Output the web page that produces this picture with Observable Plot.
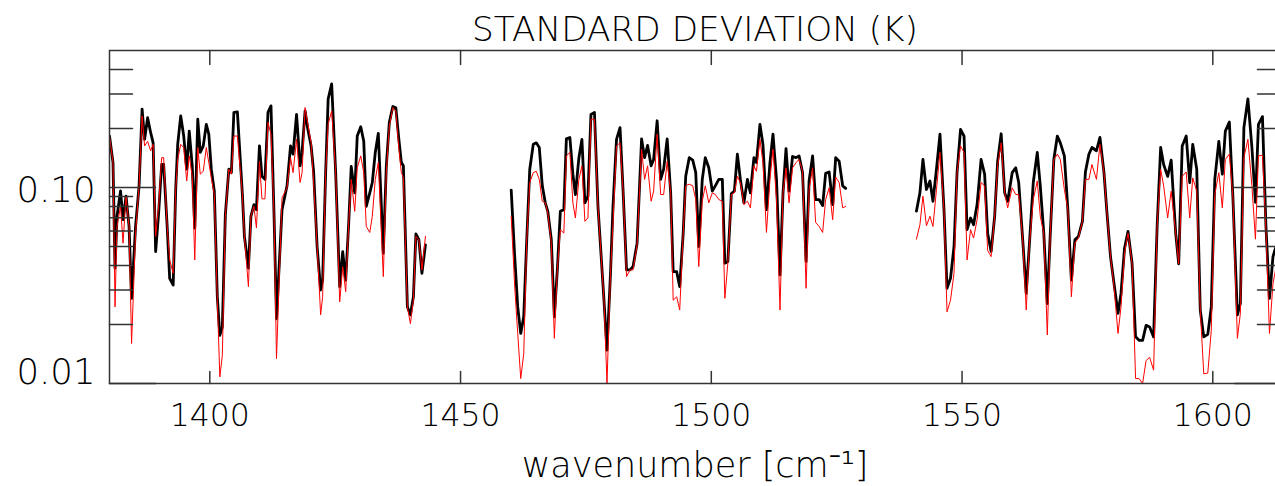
<!DOCTYPE html>
<html><head><meta charset="utf-8">
<script src="https://cdn.jsdelivr.net/npm/d3@7"></script>
<script src="https://cdn.jsdelivr.net/npm/@observablehq/plot@0.6"></script>
<style>
html,body{margin:0;padding:0;overflow:hidden;background:#fff;width:1275px;height:486px}
#chart svg{display:block;max-width:none !important;width:1290px;height:486px}
</style>
</head><body><div id="chart"></div>
<script>
// ---- DATA (standard deviation in K vs wavenumber in cm-1) ----
const wn1 = [1380.0,1380.7,1381.1,1381.5,1382.2,1382.7,1383.3,1383.9,1384.4,1385.2,
1385.9,1386.5,1387.0,1387.6,1388.2,1388.7,1389.2,1389.8,1390.4,1390.8,
1391.5,1392.0,1392.7,1393.2,1393.6,1394.2,1394.8,1395.4,1395.9,1396.5,
1397.0,1397.6,1398.1,1398.7,1399.3,1399.8,1400.3,1400.9,1401.5,1402.0,
1402.5,1403.1,1403.8,1404.3,1404.8,1405.5,1406.5,1406.9,1407.7,1408.2,
1408.8,1409.3,1409.9,1410.4,1411.0,1411.6,1412.2,1412.8,1413.3,1414.4,
1415.4,1416.1,1416.6,1417.3,1418.0,1418.4,1419.0,1419.5,1420.2,1420.7,
1421.4,1422.1,1422.5,1423.1,1423.6,1424.3,1425.1,1425.9,1426.5,1427.1,
1427.7,1428.2,1428.9,1429.4,1430.1,1430.7,1431.2,1431.9,1432.4,1433.0,
1433.6,1434.6,1435.2,1435.8,1436.5,1437.1,1437.7,1438.2,1438.6,1439.4,
1440.0,1440.6,1441.1,1441.7,1442.3,1443.0];
const black1 = [0.183,0.134,0.0388,0.0713,0.0960,0.0685,0.0903,0.0633,0.0272,0.0633,
0.102,0.251,0.176,0.227,0.191,0.169,0.0471,0.0741,0.131,0.131,
0.0633,0.0344,0.0318,0.0977,0.166,0.232,0.183,0.124,0.194,0.129,
0.0621,0.223,0.151,0.163,0.210,0.187,0.124,0.0958,0.0277,0.0176,
0.0194,0.0727,0.124,0.119,0.2415,0.243,0.0921,0.0563,0.0388,0.0713,
0.0818,0.0771,0.163,0.114,0.110,0.2415,0.261,0.0741,0.0214,0.0771,
0.102,0.163,0.148,0.236,0.129,0.151,0.246,0.202,0.163,0.121,
0.0500,0.0300,0.0337,0.119,0.283,0.338,0.119,0.0312,0.0471,0.0337,
0.0659,0.128,0.0939,0.183,0.204,0.172,0.0802,0.0939,0.106,0.151,
0.189,0.0462,0.129,0.215,0.259,0.255,0.176,0.134,0.129,0.0246,
0.0224,0.0277,0.0580,0.0541,0.0365,0.0510];
const red1 = [0.183,0.134,0.0246,0.0633,0.0802,0.0520,0.0903,0.0633,0.0160,0.0585,
0.102,0.232,0.163,0.172,0.154,0.166,0.0563,0.0802,0.142,0.142,
0.0633,0.0427,0.0365,0.0977,0.139,0.166,0.160,0.108,0.145,0.114,
0.0427,0.160,0.117,0.121,0.160,0.134,0.112,0.0921,0.0266,0.0108,
0.0139,0.0713,0.124,0.117,0.183,0.183,0.0921,0.0563,0.0312,0.0713,
0.0802,0.0621,0.136,0.0875,0.0875,0.215,0.187,0.0741,0.0134,0.0885,
0.0997,0.142,0.119,0.176,0.106,0.119,0.256,0.215,0.169,0.106,
0.0500,0.0224,0.0277,0.119,0.210,0.246,0.119,0.0261,0.0395,0.0294,
0.0659,0.110,0.0756,0.126,0.145,0.119,0.0633,0.0590,0.0713,0.110,
0.134,0.0351,0.119,0.206,0.256,0.246,0.157,0.119,0.112,0.0246,
0.0202,0.0266,0.0563,0.0541,0.0380,0.0563];

const wn2 = [1460.1,1460.8,1461.4,1462.0,1462.6,1463.2,1463.8,1464.5,1465.1,1465.7,
1466.3,1466.9,1467.4,1468.1,1468.7,1469.3,1469.9,1470.6,1471.1,1471.8,
1472.4,1472.9,1473.6,1474.2,1474.8,1475.4,1476.0,1476.7,1477.4,1478.6,
1479.2,1479.9,1480.4,1481.1,1481.8,1482.4,1483.1,1483.8,1484.4,1485.2,
1486.1,1486.7,1487.3,1488.0,1488.5,1489.2,1489.9,1490.5,1491.2,1491.9,
1492.4,1493.1,1493.7,1494.4,1494.9,1495.6,1496.3,1496.9,1497.5,1498.2,
1498.8,1499.5,1500.2,1500.8,1501.5,1502.2,1502.7,1503.3,1504.0,1504.6,
1505.2,1505.8,1506.5,1507.2,1507.8,1508.5,1509.0,1509.7,1510.3,1511.0,
1511.7,1512.3,1513.0,1513.7,1514.3,1514.9,1515.5,1516.2,1516.9,1517.5,
1518.2,1518.9,1519.5,1520.2,1520.8,1521.5,1522.2,1522.8,1523.5,1524.2,
1524.8,1525.5,1526.2,1526.8];
const black2 = [0.0970,0.0444,0.0246,0.0180,0.0219,0.0541,0.124,0.166,0.169,0.160,
0.102,0.0835,0.0756,0.0541,0.0219,0.0380,0.0756,0.0771,0.177,0.180,
0.117,0.0921,0.142,0.176,0.0835,0.0903,0.236,0.2415,0.0802,0.0266,
0.0148,0.0365,0.0802,0.176,0.202,0.0977,0.0380,0.0380,0.0395,0.0520,
0.177,0.142,0.164,0.129,0.139,0.219,0.110,0.124,0.177,0.0939,
0.0372,0.0372,0.0312,0.0585,0.114,0.142,0.138,0.119,0.0500,0.110,
0.142,0.126,0.0958,0.102,0.110,0.110,0.0411,0.0419,0.0932,0.0958,
0.148,0.110,0.0835,0.110,0.0939,0.142,0.134,0.210,0.166,0.0771,
0.134,0.187,0.110,0.0358,0.0939,0.158,0.0958,0.144,0.142,0.145,
0.119,0.0419,0.108,0.145,0.0868,0.0868,0.0808,0.118,0.120,0.0818,
0.142,0.136,0.102,0.0990];
const red2 = [0.0713,0.0312,0.0180,0.0106,0.0142,0.0541,0.106,0.119,0.121,0.110,
0.0851,0.0835,0.0741,0.0520,0.0170,0.0380,0.0609,0.0585,0.145,0.151,
0.0835,0.0699,0.110,0.129,0.0672,0.0699,0.223,0.223,0.0802,0.0266,
0.0100,0.0365,0.0659,0.163,0.169,0.0977,0.0351,0.0380,0.0380,0.0510,
0.157,0.110,0.129,0.0851,0.0958,0.187,0.0921,0.0921,0.136,0.0939,
0.0266,0.0277,0.0237,0.0585,0.102,0.104,0.102,0.0868,0.0395,0.0851,
0.102,0.0835,0.0939,0.0921,0.0868,0.0851,0.0272,0.0411,0.0921,0.0939,
0.114,0.106,0.0818,0.0851,0.0787,0.129,0.121,0.176,0.134,0.0590,
0.110,0.157,0.0868,0.0237,0.0939,0.126,0.0835,0.126,0.134,0.139,
0.121,0.0306,0.0977,0.126,0.0664,0.0633,0.0590,0.0868,0.0997,0.0685,
0.113,0.106,0.0787,0.0802];

const wn3 = [1540.9,1541.6,1542.2,1542.9,1543.6,1544.2,1544.9,1545.6,1546.4,1547.0,
1547.7,1548.4,1549.0,1549.7,1550.4,1551.0,1551.7,1552.3,1553.0,1553.8,
1554.5,1555.1,1555.8,1556.5,1557.1,1557.8,1558.5,1559.1,1560.0,1560.7,
1561.3,1562.1,1562.8,1563.4,1564.2,1565.0,1565.6,1566.3,1567.0,1567.6,
1568.3,1569.0,1569.6,1570.4,1571.1,1571.8,1572.5,1573.2,1574.0,1574.6,
1575.3,1575.9,1576.8,1577.5,1578.3,1578.9,1579.6,1580.3,1581.1,1581.7,
1582.4,1583.1,1583.9,1584.6,1585.3,1586.0,1586.7,1587.4,1588.2,1588.9,
1589.6,1590.2,1591.0,1591.7,1592.6,1593.2,1593.9,1594.7,1595.4,1596.0,
1596.8,1597.5,1598.2,1599.0,1599.7,1600.4,1601.2,1601.9,1602.5,1603.3,
1604.0,1604.9,1605.5,1606.2,1607.0,1607.8,1608.5,1609.1,1609.9,1610.6,
1611.3,1612.0,1612.5];
const black3 = [0.0757,0.0939,0.139,0.0977,0.108,0.0851,0.124,0.187,0.0771,0.0306,
0.0344,0.0500,0.119,0.198,0.183,0.0609,0.0699,0.0646,0.0818,0.139,
0.117,0.0585,0.0471,0.0713,0.136,0.188,0.0939,0.0851,0.119,0.126,
0.106,0.0541,0.0288,0.0500,0.106,0.151,0.102,0.0585,0.0256,0.0585,
0.139,0.183,0.169,0.145,0.0771,0.0337,0.0541,0.0563,0.0672,0.120,
0.148,0.160,0.154,0.180,0.119,0.0741,0.0444,0.0324,0.0228,0.0288,
0.0490,0.0597,0.0411,0.0173,0.0166,0.0166,0.0198,0.0194,0.0173,0.0633,
0.160,0.131,0.114,0.138,0.0585,0.0408,0.163,0.183,0.106,0.166,
0.124,0.0237,0.0173,0.0178,0.0246,0.110,0.172,0.117,0.194,0.216,
0.0903,0.0224,0.0256,0.202,0.283,0.160,0.0841,0.210,0.230,0.0633,
0.0272,0.0444,0.0490];
const red3 = [0.0545,0.0646,0.0903,0.0638,0.0713,0.0633,0.0977,0.151,0.0771,0.0232,
0.0266,0.0365,0.119,0.163,0.151,0.0427,0.0609,0.0552,0.0685,0.106,
0.102,0.0477,0.0444,0.0713,0.129,0.169,0.0939,0.0787,0.0997,0.0921,
0.0921,0.0541,0.0237,0.0500,0.0868,0.108,0.0713,0.0585,0.0177,0.0585,
0.139,0.148,0.139,0.0977,0.0771,0.0277,0.0520,0.0552,0.0672,0.110,
0.110,0.131,0.110,0.166,0.119,0.0741,0.0444,0.0312,0.0180,0.0246,
0.0462,0.0585,0.0411,0.0106,0.0106,0.0100,0.0131,0.0136,0.0117,0.0633,
0.124,0.102,0.0699,0.0958,0.0585,0.0408,0.114,0.120,0.0699,0.112,
0.0958,0.0237,0.0112,0.0113,0.0187,0.0921,0.119,0.0787,0.139,0.148,
0.0903,0.0170,0.0228,0.142,0.176,0.102,0.0545,0.145,0.146,0.0609,
0.0180,0.0324,0.0380];

const xTicks = [1400, 1450, 1500, 1550, 1600];
const yMajor = [0.01, 0.1];
const yMajorLabels = ["0.01", "0.10"];
const yMinor = [0.02, 0.03, 0.04, 0.05, 0.06, 0.07, 0.08, 0.09, 0.2, 0.3, 0.4];
const titleText = "STANDARD DEVIATION (K)";
const xLabelText = "wavenumber [cm\u207B\u00B9]";

// ---- build table ----
const rows = [];
[[wn1, black1, red1], [wn2, black2, red2], [wn3, black3, red3]].forEach(([w, b, r], s) => {
  const n = Math.min(w.length, b.length, r.length);
  for (let i = 0; i < n; i++) rows.push({wn: w[i], black: b[i], red: r[i], seg: s});
});

const FONT = "DejaVu Sans";
const AX = "#333";
const tickUp = {draw(c, l) { c.moveTo(0, 0); c.lineTo(0, -l); }};
const tickDown = {draw(c, l) { c.moveTo(0, 0); c.lineTo(0, l); }};
const tickRight = {draw(c, l) { c.moveTo(0, 0); c.lineTo(l, 0); }};
const tickLeft = {draw(c, l) { c.moveTo(0, 0); c.lineTo(-l, 0); }};
const txt = {fontFamily: FONT, fontWeight: 200, fill: "#000", lineAnchor: "middle"};

const chart = Plot.plot({
  width: 1290, height: 486,
  marginTop: 50, marginBottom: 103, marginLeft: 109, marginRight: 10,
  style: {fontFamily: FONT, background: "#fff", maxWidth: "none"},
  x: {domain: [1380, 1613.5], axis: null},
  y: {type: "log", domain: [0.01, 0.5], axis: null},
  marks: [
    Plot.line(rows, {x: "wn", y: "black", z: "seg", stroke: "#000", strokeWidth: 2.8, clip: true}),
    Plot.line(rows, {x: "wn", y: "red", z: "seg", stroke: "#ff0000", strokeWidth: 1, clip: true}),
    Plot.frame({stroke: AX, strokeWidth: 1.5}),
    Plot.vector(xTicks, {x: d => d, frameAnchor: "bottom", length: 12, anchor: "start", shape: tickUp, stroke: AX, strokeWidth: 1.5}),
    Plot.vector(xTicks, {x: d => d, frameAnchor: "top", length: 14, anchor: "start", shape: tickDown, stroke: AX, strokeWidth: 1.5}),
    Plot.vector(yMajor, {y: d => d, frameAnchor: "left", length: 46, anchor: "start", shape: tickRight, stroke: AX, strokeWidth: 1.5}),
    Plot.vector(yMinor, {y: d => d, frameAnchor: "left", length: 23, anchor: "start", shape: tickRight, stroke: AX, strokeWidth: 1.5}),
    Plot.vector(yMajor, {y: d => d, frameAnchor: "right", length: 46, anchor: "start", shape: tickLeft, stroke: AX, strokeWidth: 1.5}),
    Plot.vector(yMinor, {y: d => d, frameAnchor: "right", length: 23, anchor: "start", shape: tickLeft, stroke: AX, strokeWidth: 1.5}),
    Plot.text(xTicks, {x: d => d, text: d => String(d), frameAnchor: "bottom", dy: 32, fontSize: 31.5, ...txt}),
    Plot.text([yMajor[1]], {y: d => d, text: () => yMajorLabels[1], frameAnchor: "left", dx: -14, dy: 3, textAnchor: "end", fontSize: 35.5, ...txt}),
    Plot.text([yMajor[0]], {y: d => d, text: () => yMajorLabels[0], frameAnchor: "left", dx: -14, dy: -11, textAnchor: "end", fontSize: 35.5, ...txt}),
    Plot.text([xLabelText], {text: d => d, frameAnchor: "bottom", dy: 82, fontSize: 35, ...txt}),
    Plot.text([titleText], {text: d => d, frameAnchor: "top", dy: -20, fontSize: 34.3, ...txt})
  ]
});
document.getElementById("chart").appendChild(chart);
</script>
</body></html>
